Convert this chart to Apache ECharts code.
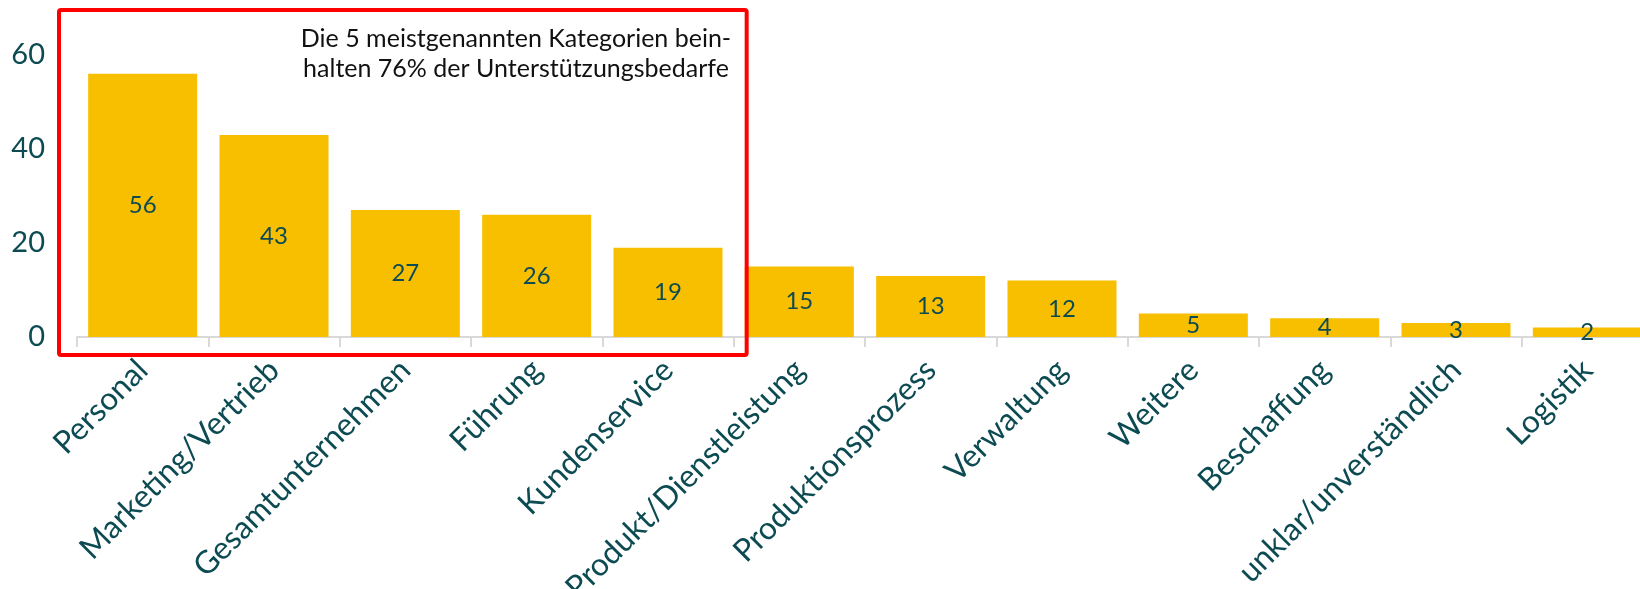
<!DOCTYPE html>
<html>
<head>
<meta charset="utf-8">
<script src="https://cdn.jsdelivr.net/npm/echarts@6/dist/echarts.min.js"></script>
<style>
  html, body { margin: 0; padding: 0; background: #ffffff; }
  #chart { width: 1640px; height: 589px; }
</style>
</head>
<body>
<div id="chart"></div>
<script>
// ---- data ----
const categories = [
  'Personal', 'Marketing/Vertrieb', 'Gesamtunternehmen', 'Führung', 'Kundenservice',
  'Produkt/Dienstleistung', 'Produktionsprozess', 'Verwaltung', 'Weitere',
  'Beschaffung', 'unklar/unverständlich', 'Logistik'
];
const values = [56, 43, 27, 26, 19, 15, 13, 12, 5, 4, 3, 2];
const yTicks = [0, 20, 40, 60];
const annotationLines = ['Die 5 meistgenannten Kategorien bein-', 'halten 76% der Unterstützungsbedarfe'];
const highlightedCount = 5;

// ---- layout ----
const W = 1640, H = 589;
const gridLeft = 77, gridTop = 55, gridBottom = H - 337, gridRight = -13;
const textColor = '#0d4b52';
const barColor = '#F7BF00';
const font = 'Lato';

const chart = echarts.init(document.getElementById('chart'), null, { renderer: 'canvas' });

const option = {
  backgroundColor: '#ffffff',
  animation: false,
  grid: {
    left: gridLeft, right: gridRight, top: gridTop, bottom: gridBottom,
    containLabel: false, outerBoundsMode: 'none'
  },
  xAxis: {
    type: 'category',
    data: categories,
    axisLine: { show: true, lineStyle: { color: '#d9d9d9', width: 2 } },
    axisTick: { show: true, alignWithLabel: false, length: 10, lineStyle: { color: '#d9d9d9', width: 2 } },
    axisLabel: {
      interval: 0, rotate: 45, margin: 28,
      color: textColor, fontFamily: font, fontSize: 31.5
    },
    splitLine: { show: false }
  },
  yAxis: {
    type: 'value',
    min: yTicks[0], max: yTicks[yTicks.length - 1], interval: yTicks[1] - yTicks[0],
    axisLine: { show: false },
    axisTick: { show: false },
    splitLine: { show: false },
    axisLabel: { margin: 32, color: textColor, fontFamily: font, fontSize: 29 }
  },
  series: [{
    type: 'bar',
    data: values,
    barCategoryGap: '17%',
    itemStyle: { color: barColor },
    label: {
      show: true, position: 'inside',
      color: textColor, fontFamily: font, fontSize: 24
    }
  }]
};
chart.setOption(option);

// red highlight box around the top categories + annotation
const catW = (W - gridLeft - gridRight) / categories.length;
const boxLeft = gridLeft - 18;
const boxRight = gridLeft + highlightedCount * catW + 13;
const boxTop = 10;
const boxBottom = 355;
const textCenter = 516;

chart.setOption({
  graphic: [
    {
      type: 'rect', z: 100,
      shape: { x: boxLeft, y: boxTop, width: boxRight - boxLeft, height: boxBottom - boxTop, r: 2 },
      style: { fill: 'none', stroke: '#ff0000', lineWidth: 4 }
    }
  ].concat(annotationLines.map((line, i) => ({
    type: 'text', z: 101,
    x: textCenter, y: 39 + i * 30,
    style: {
      text: line,
      fill: '#111111', font: '25px Lato', textAlign: 'center', textVerticalAlign: 'middle'
    }
  })))
});
</script>
</body>
</html>
